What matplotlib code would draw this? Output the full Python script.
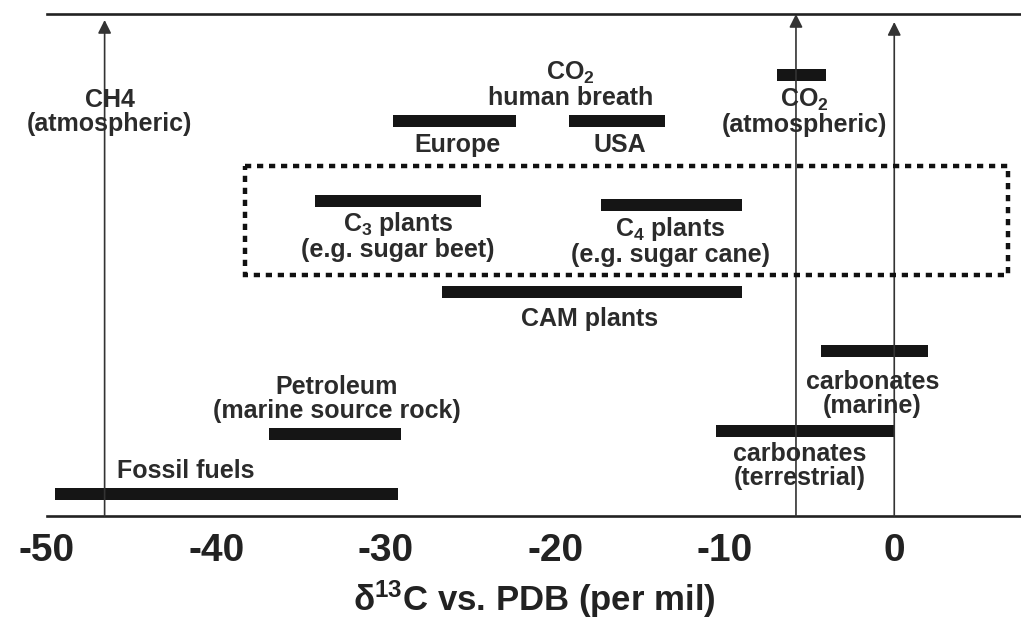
import matplotlib.pyplot as plt
from matplotlib.patches import Rectangle

plt.rcParams['font.family'] = ['Liberation Sans', 'DejaVu Sans']
plt.rcParams['mathtext.default'] = 'regular'

# isotope ranges, delta 13C (per mil)
sources = ['Fossil fuels', 'Petroleum', 'CAM plants', 'C3 plants', 'C4 plants',
           'Europe', 'USA', 'CO2 atmospheric', 'carbonates marine', 'carbonates terrestrial']
range_lo = [-49.5, -36.9, -26.7, -34.2, -17.3, -29.6, -19.2, -6.9, -4.3, -10.5]
range_hi = [-29.3, -29.1, -9.0, -24.4, -9.0, -22.3, -13.5, -4.0, 2.0, 0.0]

# reference arrows
arrow_x = [-46.6, -5.8, 0.0]

x_ticks = [-50, -40, -30, -20, -10, 0]

# layout (vertical rows, top of plot = 14, bottom = 516)
bar_rows = [494, 434, 292, 201, 205, 121, 121, 75, 351, 431]
arrow_tips = [20, 14, 22]

ink = '#222222'
txt = '#2b2b2b'

fig = plt.figure(figsize=(10.21, 6.21), dpi=100)
ax = fig.add_axes([47 / 1021, 105 / 621, 1 - 47 / 1021, 502 / 621])
ax.set_xlim(-49.4, 7.48)
ax.set_ylim(516, 14)

for lo, hi, y in zip(range_lo, range_hi, bar_rows):
    ax.barh(y, hi - lo, left=lo, height=12, color='#151515', clip_on=False, zorder=3)

for x, tip in zip(arrow_x, arrow_tips):
    ax.annotate('', xy=(x, tip), xytext=(x, 516),
                arrowprops=dict(arrowstyle='-|>', mutation_scale=20, lw=1.2,
                                color='#333333', shrinkA=0, shrinkB=0))

# dotted box around C3/C4 plants
box = Rectangle((-38.3, 166), 45.0, 109, fill=False, lw=3.2, ls=(0, (1.4, 1.3)),
                edgecolor='#111111', clip_on=False, zorder=4)
ax.add_patch(box)

lab = dict(ha='center', va='center', fontsize=18, fontweight='bold', color=txt,
           linespacing=1.0, zorder=5)
ax.text(-46.3, 112, 'CH4\n(atmospheric)', **lab)
ax.text(-19.1, 85, 'CO$_2$\nhuman breath', **lab)
ax.text(-25.8, 145, 'Europe', **lab)
ax.text(-16.2, 145, 'USA', **lab)
ax.text(-5.3, 112, 'CO$_2$\n(atmospheric)', **lab)
ax.text(-29.3, 236, 'C$_3$ plants\n(e.g. sugar beet)', **lab)
ax.text(-13.2, 241, 'C$_4$ plants\n(e.g. sugar cane)', **lab)
ax.text(-18.0, 319, 'CAM plants', **lab)
ax.text(-1.3, 394, 'carbonates\n(marine)', **lab)
ax.text(-32.9, 399, 'Petroleum\n(marine source rock)', **lab)
ax.text(-5.6, 466, 'carbonates\n(terrestrial)', **lab)
ax.text(-41.8, 471, 'Fossil fuels', **lab)

ax.spines['left'].set_visible(False)
ax.spines['right'].set_visible(False)
for s in ['top', 'bottom']:
    ax.spines[s].set_linewidth(1.9)
    ax.spines[s].set_color(ink)

ax.set_yticks([])
ax.set_xticks(x_ticks)
ax.set_xticklabels([str(t) for t in x_ticks], fontsize=28, fontweight='bold',
                   family=['Liberation Sans Narrow', 'Liberation Sans'], color=ink)
ax.tick_params(axis='x', length=0, pad=12)
ax.set_xlabel('δ$^{13}$C vs. PDB (per mil)', fontsize=25, fontweight='bold',
              family=['Liberation Sans Narrow', 'Liberation Sans'], color=ink, labelpad=7)

fig.savefig('out.png', dpi=100)
